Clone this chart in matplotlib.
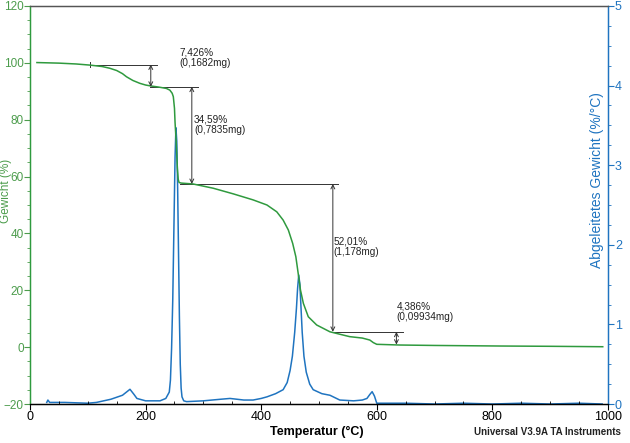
import matplotlib.pyplot as plt
from matplotlib.ticker import MultipleLocator

plt.rcParams['font.family'] = ['Liberation Sans', 'DejaVu Sans']

GREEN = '#2f9a3e'
GREEN_TXT = '#4c9c4c'
BLUE = '#1f74c0'
GRAY = '#333333'

# TGA weight curve (temperature in degC, weight in %)
tga_temp = [12, 50, 80, 104, 125, 138, 150, 160, 167, 178, 190, 200, 208, 222,
            236, 242, 246, 248, 250, 251, 253, 255, 256.5, 258, 262, 282, 317,
            352, 386, 410, 427, 438, 447, 454.5, 460, 464, 468, 473, 481.5,
            496, 519, 553, 575, 588, 594, 600, 640, 700, 813, 900, 991]
tga_weight = [100.1, 99.9, 99.6, 99.2, 98.7, 98.1, 97.3, 96.2, 95.1, 93.8,
              92.8, 92.2, 91.9, 91.5, 91.0, 90.4, 89.3, 88.1, 84, 79, 72, 63,
              59, 57.9, 57.7, 57.4, 55.9, 53.9, 51.8, 50.0, 47.6, 44.7, 41.2,
              36.5, 31.8, 26.0, 20.1, 15.4, 10.7, 7.8, 5.4, 3.7, 3.2, 2.5, 1.6,
              1.0, 0.75, 0.6, 0.4, 0.3, 0.15]

# derivative weight curve (%/degC)
dtg_temp = [29, 31, 34, 60, 100, 115, 140, 160, 173, 180, 185, 200, 225, 235,
            241, 243, 245, 247, 249, 251, 252.5, 254, 255.5, 257, 258.5, 260,
            261.5, 263, 266, 271, 300, 330, 346, 370, 386, 400, 410, 425, 438,
            445, 450, 454, 458, 461, 463, 465, 467, 469, 471, 474, 478, 484,
            490, 505, 519, 536, 560, 575, 583, 588, 592, 596, 600, 650, 700,
            750, 800, 850, 900, 950, 990]
dtg_value = [0.02, 0.05, 0.02, 0.02, 0.01, 0.02, 0.06, 0.11, 0.185, 0.12, 0.07,
             0.04, 0.04, 0.07, 0.15, 0.3, 0.7, 1.3, 2.2, 3.1, 3.47, 3.3, 2.7,
             1.9, 1.1, 0.5, 0.2, 0.09, 0.04, 0.03, 0.04, 0.06, 0.07, 0.05,
             0.05, 0.07, 0.09, 0.13, 0.18, 0.27, 0.42, 0.6, 0.9, 1.2, 1.45,
             1.62, 1.5, 1.2, 0.9, 0.6, 0.4, 0.25, 0.18, 0.13, 0.11, 0.05, 0.04,
             0.05, 0.07, 0.12, 0.155, 0.1, 0.01, 0.01, 0.0, 0.01, 0.0, 0.01,
             0.0, 0.01, 0.0]

# step annotations: arrow x, top and bottom of each step
step_x = [209, 280, 524, 634]
step_top = [99.4, 91.6, 57.4, 5.4]
step_bottom = [91.6, 57.4, 5.4, 0.9]
step_labels = ['7,426%\n(0,1682mg)', '34,59%\n(0,7835mg)',
               '52,01%\n(1,178mg)', '4,386%\n(0,09934mg)']
label_pos = [(258, 105.5), (284, 82), (525, 39), (634, 16)]
# horizontal guide lines: (y, x start, x end)
guides = [(99.4, 103, 220), (91.6, 207, 291), (57.4, 260, 533), (5.4, 524, 645)]

fig = plt.figure(figsize=(6.3, 4.43), dpi=100)
ax = fig.add_axes([0.0476, 0.088, 0.9174, 0.8985])
ax2 = ax.twinx()

ax.plot(tga_temp, tga_weight, color=GREEN, lw=1.1, zorder=3)
ax2.plot(dtg_temp, dtg_value, color=BLUE, lw=1.1)
ax.set_zorder(ax2.get_zorder() + 1)
ax.patch.set_visible(False)

for y, x0, x1 in guides:
    ax.plot([x0, x1], [y, y], color=GRAY, lw=0.7)
ax.plot([103, 103], [98.4, 100.4], color=GRAY, lw=0.7)
for x, top, bot in zip(step_x, step_top, step_bottom):
    ax.annotate('', xy=(x, bot), xytext=(x, top),
                arrowprops=dict(arrowstyle='<->', color=GRAY, lw=0.7,
                                mutation_scale=7, shrinkA=0, shrinkB=0))
for txt, (x, y) in zip(step_labels, label_pos):
    ax.text(x, y, txt, fontsize=7.2, color='#222222', va='top', ha='left',
            linespacing=1.1)

ax.set_xlim(0, 1000)
ax.set_ylim(-20, 120)
ax2.set_ylim(0, 5)
ax.xaxis.set_major_locator(MultipleLocator(200))
ax.xaxis.set_minor_locator(MultipleLocator(50))
ax.yaxis.set_major_locator(MultipleLocator(20))
ax.yaxis.set_minor_locator(MultipleLocator(5))
ax2.yaxis.set_major_locator(MultipleLocator(1))
ax2.yaxis.set_minor_locator(MultipleLocator(0.25))

ax.tick_params(axis='x', which='major', length=4, labelsize=9, pad=1,
               color='black')
ax.tick_params(axis='x', which='minor', direction='in', length=2)
ax.tick_params(axis='y', which='both', colors=GREEN_TXT, labelsize=8.5,
               pad=0.5)
ax.tick_params(axis='y', which='major', length=4)
ax.tick_params(axis='y', which='minor', length=2.5)
ax2.tick_params(axis='y', which='both', colors=BLUE, labelsize=9, pad=1)
ax2.tick_params(axis='y', which='major', length=4)
ax2.tick_params(axis='y', which='minor', length=2.5)

for a in (ax, ax2):
    a.spines['left'].set_color(GREEN)
    a.spines['right'].set_color(BLUE)
    a.spines['top'].set_color('#555555')
    a.spines['bottom'].set_color('black')
    for s in a.spines.values():
        s.set_linewidth(0.9)

fig.text(0.009, 0.57, 'Gewicht (%)', color=GREEN_TXT, fontsize=8.5,
         rotation=90, ha='center', va='center')
fig.text(0.948, 0.594, 'Abgeleitetes Gewicht (%/°C)', color=BLUE,
         fontsize=10, rotation=90, ha='center', va='center')
fig.text(0.503, 0.025, 'Temperatur (°C)', fontsize=9, fontweight='bold',
         ha='center', va='center')
fig.text(0.985, 0.025, 'Universal V3.9A TA Instruments', fontsize=7,
         fontweight='bold', ha='right', va='center', color='#222222')

fig.savefig('out.png', dpi=100)
